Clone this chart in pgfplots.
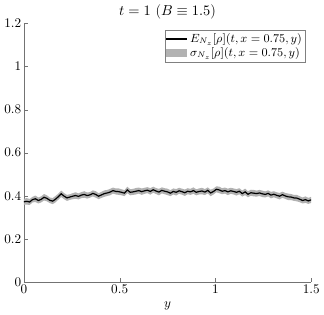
\documentclass[border=0pt]{standalone}
\usepackage{pgfplots}
\pgfplotsset{compat=1.18}
\usepackage{pgfplotstable}
\usepgfplotslibrary{fillbetween}
\pgfplotstableread{
y m s
0.000 0.372 0.014
0.015 0.374 0.015
0.030 0.371 0.014
0.045 0.382 0.013
0.060 0.386 0.015
0.075 0.378 0.014
0.090 0.383 0.014
0.105 0.393 0.015
0.120 0.388 0.014
0.135 0.379 0.013
0.150 0.375 0.014
0.165 0.384 0.015
0.180 0.396 0.014
0.195 0.409 0.015
0.210 0.398 0.014
0.225 0.390 0.014
0.240 0.394 0.013
0.255 0.398 0.014
0.270 0.401 0.015
0.285 0.397 0.014
0.300 0.403 0.014
0.315 0.406 0.015
0.330 0.401 0.014
0.345 0.404 0.013
0.360 0.411 0.014
0.375 0.406 0.015
0.390 0.398 0.014
0.405 0.404 0.014
0.420 0.410 0.015
0.435 0.413 0.014
0.450 0.417 0.015
0.465 0.424 0.014
0.480 0.420 0.014
0.495 0.419 0.015
0.510 0.416 0.014
0.525 0.412 0.014
0.540 0.427 0.015
0.555 0.416 0.014
0.570 0.418 0.014
0.585 0.421 0.015
0.600 0.424 0.014
0.615 0.419 0.015
0.630 0.423 0.014
0.645 0.426 0.014
0.660 0.420 0.015
0.675 0.428 0.014
0.690 0.422 0.014
0.705 0.417 0.015
0.720 0.425 0.014
0.735 0.421 0.014
0.750 0.418 0.015
0.765 0.412 0.014
0.780 0.420 0.014
0.795 0.416 0.015
0.810 0.423 0.014
0.825 0.419 0.014
0.840 0.414 0.015
0.855 0.421 0.014
0.870 0.418 0.014
0.885 0.424 0.015
0.900 0.416 0.014
0.915 0.420 0.014
0.930 0.422 0.015
0.945 0.417 0.014
0.960 0.425 0.014
0.975 0.413 0.015
0.990 0.420 0.014
1.005 0.430 0.014
1.020 0.427 0.015
1.035 0.421 0.014
1.050 0.424 0.014
1.065 0.418 0.015
1.080 0.423 0.014
1.095 0.420 0.014
1.110 0.416 0.015
1.125 0.421 0.014
1.140 0.410 0.014
1.155 0.418 0.015
1.170 0.407 0.014
1.185 0.414 0.014
1.200 0.412 0.015
1.215 0.410 0.014
1.230 0.413 0.014
1.245 0.409 0.015
1.260 0.406 0.014
1.275 0.411 0.014
1.290 0.403 0.015
1.305 0.407 0.014
1.320 0.402 0.014
1.335 0.398 0.015
1.350 0.405 0.014
1.365 0.399 0.014
1.380 0.395 0.015
1.395 0.394 0.014
1.410 0.390 0.014
1.425 0.389 0.015
1.440 0.384 0.014
1.455 0.378 0.014
1.470 0.382 0.015
1.485 0.376 0.014
1.500 0.381 0.014
}\data
\begin{document}
\begin{tikzpicture}
\begin{axis}[
  scale only axis,
  width=218pt, height=196pt,
  xmin=0, xmax=1.5, ymin=0, ymax=1.2,
  axis x line=bottom, axis y line=left,
  axis line style={-, color=black!55},
  tick style={color=black!55},
  tick align=inside,
  major tick length=3pt,
  xtick={0,0.5,1,1.5},
  ytick={0,0.2,0.4,0.6,0.8,1,1.2},
  xticklabels={0,0.5,1,1.5},
  yticklabels={0,0.2,0.4,0.6,0.8,1,1.2},
  yticklabel style={xshift=1.5pt},
  xticklabel style={yshift=1pt},
  xlabel={$y$},
  xlabel style={yshift=1pt},
  title={$t=1$ ($B\equiv 1.5$)},
  title style={yshift=-6pt, font=\fontsize{11}{13}\selectfont},
  legend style={at={(rel axis cs:0.98,0.975)}, anchor=north east, draw=black!50, font=\small, inner sep=0.5pt, row sep=-1.5pt},
  legend cell align=left,
  legend image code/.code={\draw[#1] (0cm,0cm) -- (0.55cm,0cm);},
]
\addplot[name path=up, draw=none, forget plot] table[x=y, y expr=\thisrow{m}+\thisrow{s}] {\data};
\addplot[name path=lo, draw=none, forget plot] table[x=y, y expr=\thisrow{m}-\thisrow{s}] {\data};
\addplot[black, line width=0.9pt] table[x=y, y=m] {\data};
\addlegendentry{$E_{N_z}[\rho](t,x=0.75,y)$}
\addplot[fill=black!30, draw=none, area legend, legend image code/.code={\fill[black!30] (0cm,-0.1cm) rectangle (0.55cm,0.12cm);}] fill between[of=up and lo];
\addlegendentry{$\sigma_{N_z}[\rho](t,x=0.75,y)$}
\end{axis}
\end{tikzpicture}
\end{document}
